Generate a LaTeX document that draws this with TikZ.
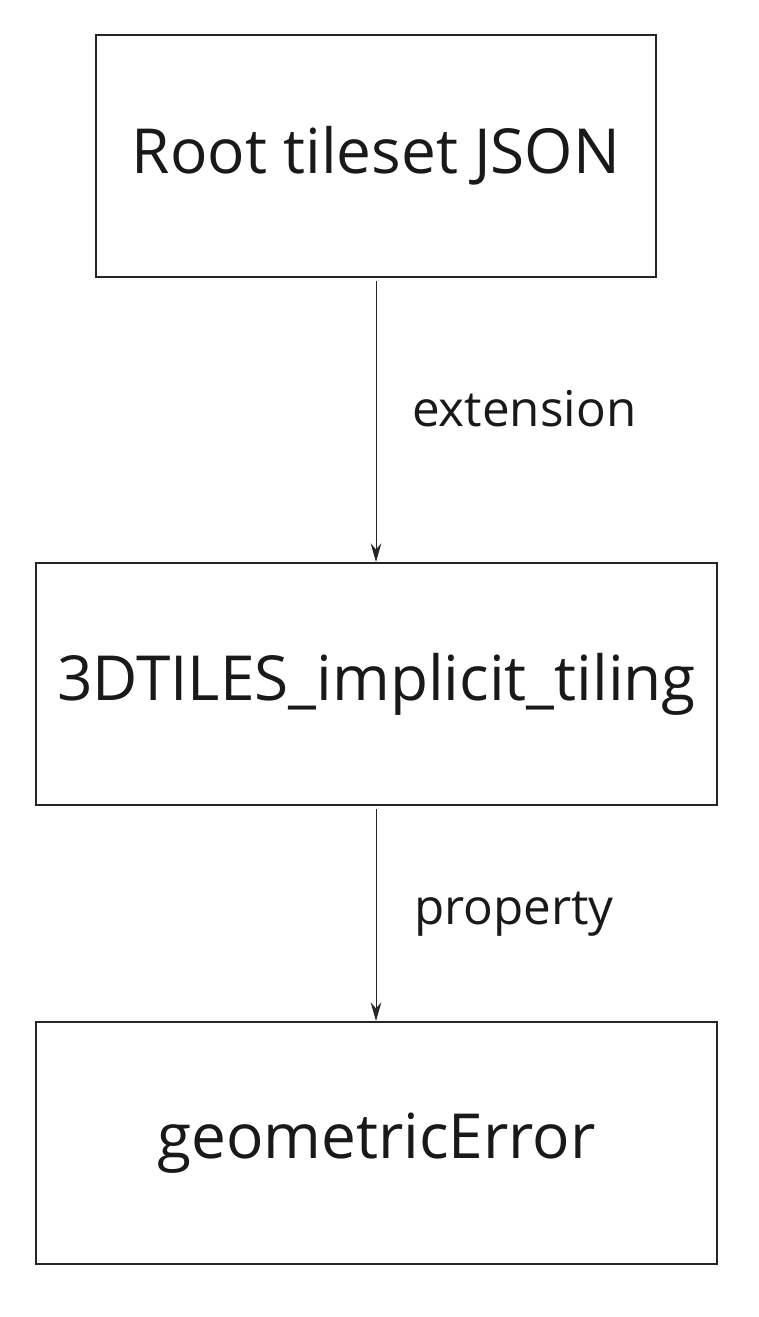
\documentclass[tikz,border=0pt]{standalone}
\usepackage{fontspec}
\setmainfont{Open Sans}
\usetikzlibrary{arrows.meta, positioning}

\tikzset{
	box/.style = {draw = black!85, line width = 1.5pt, inner sep = 0pt, font = \fontsize{46.6}{56}\selectfont, text = black!90},
	link/.style = {draw = black!85, line width = 0.75pt, -{Stealth[length = 14pt, width = 8pt]}},
	linklabel/.style = {anchor = west, inner sep = 0pt, font = \fontsize{37}{44}\selectfont, text = black!90}
}

\begin{document}
\begin{tikzpicture}[x = 0.75pt, y = -0.75pt]
		\useasboundingbox (0,0) rectangle (758,1317);
		
		%boxes
		\node [box, minimum width = 420pt, minimum height = 181.5pt] (root) at (376,156) {Root tileset JSON};
		\node [box, minimum width = 510.75pt, minimum height = 181.5pt] (implicit) at (376.5,684) {3DTILES\_implicit\_tiling};
		\node [box, minimum width = 510.75pt, minimum height = 181.5pt] (geomerror) at (376.5,1143) {geometricError};
		
		%connectors
		\draw [link] (root.south -| 376,0) ++(0,3) coordinate (root out) -- (implicit.north -| root out);
		\draw [link] (implicit.south -| 376,0) ++(0,3) coordinate (implicit out) -- (geomerror.north -| implicit out);
		
		%labels
		\node [linklabel] (extension label) at (412,409) {extension};
		\node [linklabel] (property label) at (414,914) {property};
	\end{tikzpicture}
\end{document}
